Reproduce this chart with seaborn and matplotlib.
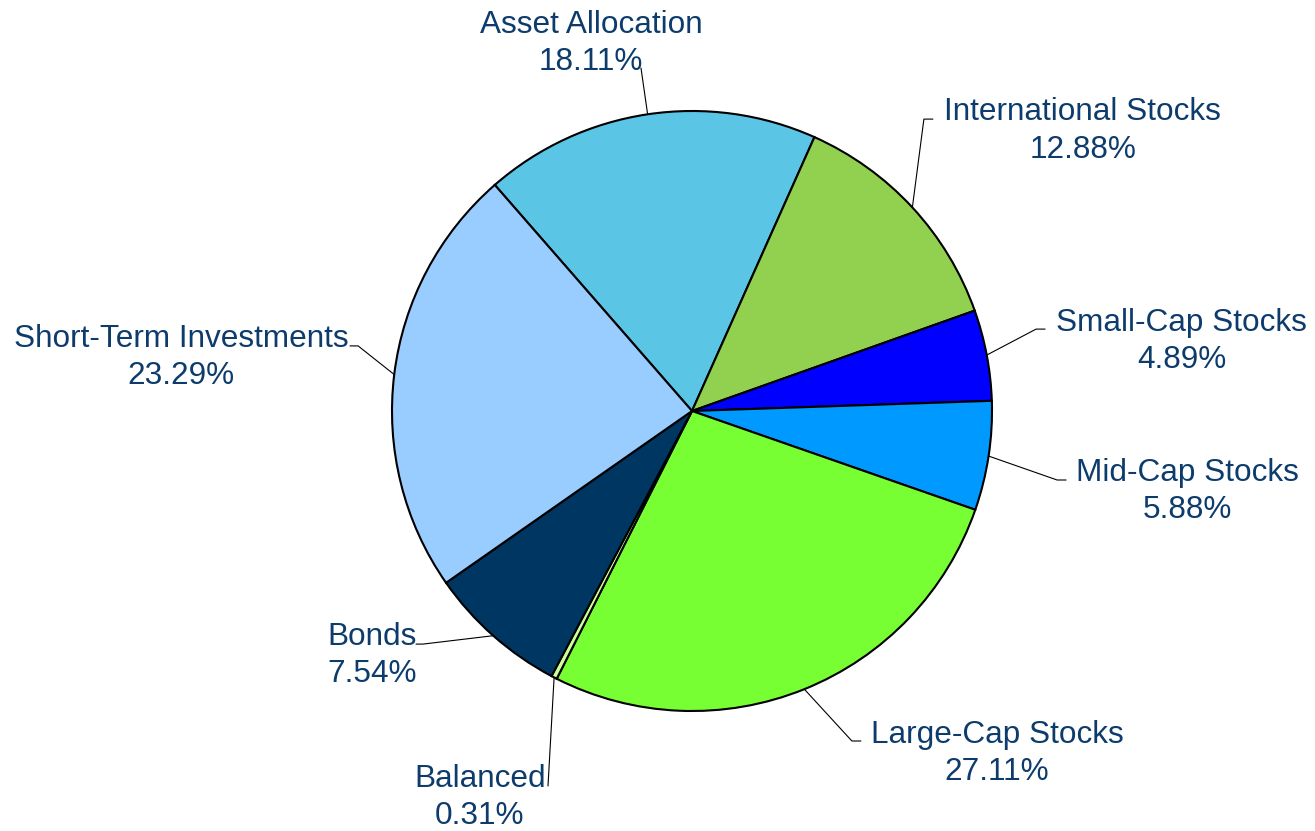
import numpy as np
import matplotlib
matplotlib.use("Agg")
import matplotlib.pyplot as plt
import seaborn as sns

# data, clockwise from the slice that starts upper-left
categories = ["Asset Allocation", "International Stocks", "Small-Cap Stocks",
              "Mid-Cap Stocks", "Large-Cap Stocks", "Balanced", "Bonds",
              "Short-Term Investments"]
shares = [18.11, 12.88, 4.89, 5.88, 27.11, 0.31, 7.54, 23.29]
slice_colors = ["#5BC5E6", "#92D050", "#0000FF", "#0099FF", "#77FF33",
                "#CCFF99", "#003662", "#99CCFF"]

# label layout (text centre, leader line elbow) in axes units, radius = 1
label_pos = [(-0.337, 1.225), (1.303, 0.934), (1.633, 0.232), (1.65, -0.268),
             (1.017, -1.141), (-0.707, -1.288), (-1.067, -0.815), (-1.703, 0.179)]
elbows = [[(-0.17, 1.143)],
          [(0.773, 0.973), (0.803, 0.973)],
          [(1.147, 0.273), (1.177, 0.273)],
          [(1.217, -0.23), (1.247, -0.23)],
          [(0.533, -1.1), (0.563, -1.1)],
          [(-0.48, -1.25)],
          [(-0.897, -0.777), (-0.92, -0.777)],
          [(-1.113, 0.217), (-1.14, 0.217)]]

sns.set_theme(style="white")
plt.rcParams["font.family"] = ["Liberation Sans", "DejaVu Sans"]
text_color = "#0D3C6C"

fig = plt.figure(figsize=(13.15, 8.31), dpi=100)
ax = fig.add_axes([0, 0, 1, 1])

start = 90 + 41.1
wedges, _ = ax.pie(shares, colors=slice_colors, startangle=start,
                   counterclock=False, radius=1.0,
                   wedgeprops=dict(edgecolor="black", linewidth=1.5))

for w, name, val, pos, elb in zip(wedges, categories, shares, label_pos, elbows):
    mid = np.deg2rad((w.theta1 + w.theta2) / 2)
    pts = [(np.cos(mid), np.sin(mid))] + elb
    xs, ys = zip(*pts)
    ax.plot(xs, ys, color="black", lw=0.8)
    ax.text(pos[0], pos[1], f"{name}\n{val:.2f}%", ha="center", va="center",
            fontsize=22.7, color=text_color, linespacing=1.33)

ax.set_xlim(-692 / 300, (1315 - 692) / 300)
ax.set_ylim(-(831 - 411) / 300, 411 / 300)
ax.set_aspect("equal")
ax.axis("off")

fig.savefig("out.png", dpi=100)
